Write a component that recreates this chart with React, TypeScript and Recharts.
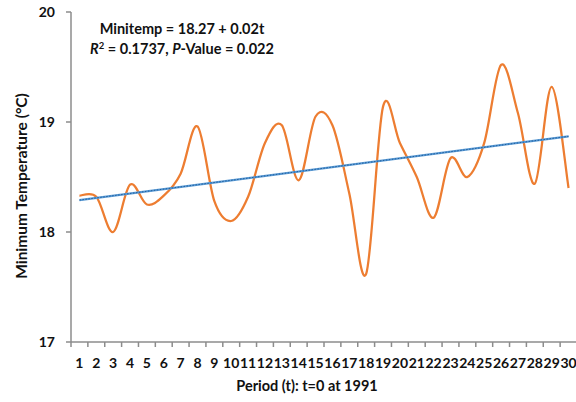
import React from "react";
import { LineChart, Line, XAxis, YAxis } from "recharts";

const periods = [1, 2, 3, 4, 5, 6, 7, 8, 9, 10, 11, 12, 13, 14, 15, 16, 17, 18, 19, 20, 21, 22, 23, 24, 25, 26, 27, 28, 29, 30];
const minTemp = [
    18.33, 18.32, 18.0, 18.43, 18.25, 18.33, 18.53, 18.96, 18.28, 18.1,
    18.32, 18.81, 18.97, 18.47, 19.05, 18.97, 18.35, 17.62, 19.14, 18.81,
    18.5, 18.13, 18.67, 18.5, 18.81, 19.52, 19.08, 18.44, 19.32, 18.4,
];
// linear trendline read at t=1 and t=30
const trendT = [1, 30];
const trendV = [18.29, 18.87];
const yTicks = [17, 18, 19, 20];

const data = periods.map((t, i) => {
    const k = trendT.indexOf(t);
    return { t, temp: minTemp[i], trend: k >= 0 ? trendV[k] : undefined };
});
const xTicks = [...periods.map(p => p - 0.5), periods[periods.length - 1] + 0.5];

const W = 580;
const H = 402;
const M = { top: 12, right: 3, left: 11, bottom: 0 };
const Y_W = 60;
const PLOT_W = W - M.left - M.right - Y_W;
const BAND = PLOT_W / periods.length;

const FONT = "Lato, 'Liberation Sans', Arial, sans-serif";
const INK = "#111";

// Excel-like smoothed line (catmull-rom through the points)
const excelSmooth = (context: any) => {
    let pts: number[][] = [];
    return {
        areaStart() {},
        areaEnd() {},
        lineStart() { pts = []; },
        lineEnd() {
            const n = pts.length;
            if (!n) return;
            context.moveTo(pts[0][0], pts[0][1]);
            for (let i = 0; i < n - 1; i++) {
                const p0 = pts[i - 1] || pts[i];
                const p1 = pts[i];
                const p2 = pts[i + 1];
                const p3 = pts[i + 2] || p2;
                context.bezierCurveTo(
                    p1[0] + (p2[0] - p0[0]) / 6, p1[1] + (p2[1] - p0[1]) / 6,
                    p2[0] - (p3[0] - p1[0]) / 6, p2[1] - (p3[1] - p1[1]) / 6,
                    p2[0], p2[1]
                );
            }
        },
        point(x: number, y: number) { pts.push([+x, +y]); },
    };
};

const PeriodTick = ({ x, y, payload }: any) => {
    const v = payload.value + 0.5;
    if (v > periods[periods.length - 1]) return null;
    return (
        <text x={x + BAND / 2} y={y} dy="0.71em" textAnchor="middle" fontSize={14} fontWeight={700} fontFamily={FONT} fill={INK}>
            {v}
        </text>
    );
};

export default function App() {
    return (
        <div style={{ position: "absolute", left: 0, top: 0, width: 576, height: 402, overflow: "hidden", background: "#fff" }}>
            <LineChart width={W} height={H} data={data} margin={M}>
                <XAxis
                    dataKey="t"
                    type="number"
                    domain={[0.5, 30.5]}
                    ticks={xTicks}
                    interval={0}
                    height={60}
                    tickSize={5}
                    tickMargin={11}
                    tick={<PeriodTick />}
                    stroke="#8c8c8c"
                    axisLine={{ stroke: "#8c8c8c", strokeWidth: 1.5 }}
                    tickLine={{ stroke: "#8c8c8c", strokeWidth: 1.5 }}
                />
                <YAxis
                    domain={[17, 20]}
                    ticks={yTicks}
                    width={Y_W}
                    tickSize={5}
                    tickMargin={11}
                    tick={{ fontSize: 14, fontWeight: 700, fontFamily: FONT, fill: INK }}
                    axisLine={{ stroke: "#8c8c8c", strokeWidth: 1.5 }}
                    tickLine={{ stroke: "#8c8c8c", strokeWidth: 1.5 }}
                />
                <Line dataKey="temp" type={excelSmooth as any} stroke="#ED7D31" strokeWidth={2.25} dot={false} isAnimationActive={false} />
                <Line dataKey="trend" type="linear" connectNulls stroke="#5B9BD5" strokeWidth={2.25} dot={false} isAnimationActive={false} />
                <Line dataKey="trend" type="linear" connectNulls stroke="#1F5F9F" strokeWidth={1} strokeDasharray="1.5 1.5" dot={false} isAnimationActive={false} />

                <text x={182} y={33.5} textAnchor="middle" fontSize={14.5} fontWeight={700} fontFamily={FONT} fill={INK}>
                    Minitemp = 18.27 + 0.02t
                </text>
                <text x={182} y={53.5} textAnchor="middle" fontSize={14.5} fontWeight={700} fontFamily={FONT} fill={INK}>
                    <tspan fontStyle="italic">R</tspan>
                    <tspan dy={-5} fontSize={9.5}>2</tspan>
                    <tspan dy={5}> = 0.1737, </tspan>
                    <tspan fontStyle="italic">P</tspan>
                    <tspan>-Value = 0.022</tspan>
                </text>
                <text x={307} y={391} textAnchor="middle" fontSize={14.5} fontWeight={700} fontFamily={FONT} fill={INK}>
                    Period (t): t=0 at 1991
                </text>
                <text
                    x={20.5}
                    y={186}
                    transform="rotate(-90 20.5 186)"
                    textAnchor="middle"
                    dominantBaseline="central"
                    fontSize={15.5}
                    fontWeight={700}
                    fontFamily={FONT}
                    fill={INK}
                >
                    Minimum Temperature (°C)
                </text>
            </LineChart>
        </div>
    );
}
